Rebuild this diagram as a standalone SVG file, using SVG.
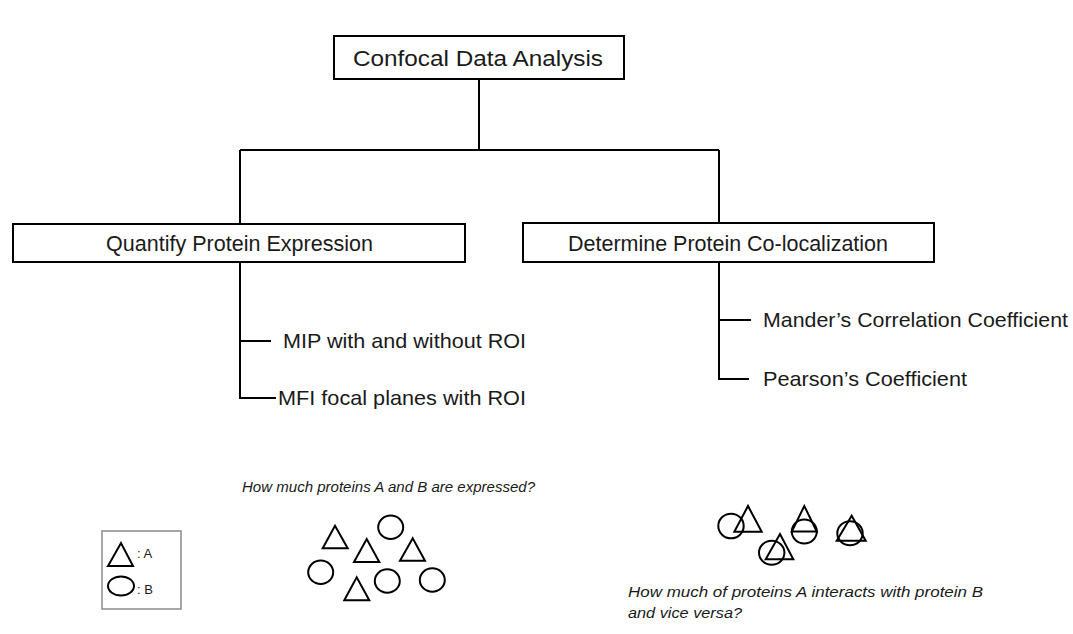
<svg xmlns="http://www.w3.org/2000/svg" width="1073" height="634" viewBox="0 0 1073 634">
  <style>
    .box { fill: #ffffff; stroke: #000000; stroke-width: 2; }
    .wire { fill: none; stroke: #000000; stroke-width: 2; }
    .lbl { font-family: "Liberation Sans", Arial, sans-serif; fill: #1a1a1a; }
    .head { font-size: 22.5px; }
    .item { font-size: 21px; }
    .note { font-size: 15.5px; font-style: italic; }
    .tri, .blob { fill: none; stroke: #000000; stroke-width: 2; }
  </style>

  <!-- connectors -->
  <g id="connectors" class="wire">
    <path d="M479 79 V150 M240 150 H719 M240 150 V224 M719 150 V223"/>
    <path d="M240 262 V398 H276 M240 341 H271"/>
    <path d="M719 262 V379 H749 M719 320 H751"/>
  </g>

  <g id="root">
    <rect class="box" x="334" y="36" width="290" height="43"/>
    <text class="lbl head" x="353" y="66" textLength="250" lengthAdjust="spacingAndGlyphs">Confocal Data Analysis</text>
  </g>

  <g id="quantify">
    <rect class="box" x="13" y="224" width="452" height="38"/>
    <text class="lbl head" x="106" y="251" textLength="267" lengthAdjust="spacingAndGlyphs">Quantify Protein Expression</text>
  </g>

  <g id="colocalization">
    <rect class="box" x="523" y="223" width="411" height="39"/>
    <text class="lbl head" x="568" y="251" textLength="320" lengthAdjust="spacingAndGlyphs">Determine Protein Co-localization</text>
  </g>

  <g id="mip">
    <text class="lbl item" x="283" y="348" textLength="243" lengthAdjust="spacingAndGlyphs">MIP with and without  ROI</text>
  </g>
  <g id="mfi">
    <text class="lbl item" x="278" y="405" textLength="248" lengthAdjust="spacingAndGlyphs">MFI focal planes with ROI</text>
  </g>
  <g id="manders">
    <text class="lbl item" x="763" y="327" textLength="305" lengthAdjust="spacingAndGlyphs">Mander’s Correlation Coefficient</text>
  </g>
  <g id="pearson">
    <text class="lbl item" x="763" y="386" textLength="204" lengthAdjust="spacingAndGlyphs">Pearson’s Coefficient</text>
  </g>

  <!-- legend -->
  <g id="legend">
    <rect x="102" y="531" width="79" height="78" fill="#ffffff" stroke="#8a8a8a" stroke-width="1.5"/>
    <polygon class="tri" points="108,566 133,566 121,543"/>
    <ellipse class="blob" cx="121" cy="586" rx="13" ry="9.5"/>
    <text class="lbl" x="137" y="558" font-size="13">: A</text>
    <text class="lbl" x="137" y="594" font-size="13">: B</text>
  </g>

  <!-- expression sketch -->
  <g id="expression">
    <text class="lbl note" x="242" y="492" textLength="293" lengthAdjust="spacingAndGlyphs">How much proteins A and B are expressed?</text>
    <polygon class="tri" points="322.7,548.3 347.7,548.3 335,525.7"/>
    <polygon class="tri" points="354,562 379.3,562 366.7,539"/>
    <polygon class="tri" points="400,560.7 425,560.7 412.7,538.3"/>
    <polygon class="tri" points="344.3,600.3 369.3,600.3 356.7,577.3"/>
    <ellipse class="blob" cx="390.7" cy="527.3" rx="12.5" ry="11.7"/>
    <ellipse class="blob" cx="320.7" cy="572.3" rx="12.5" ry="11.7"/>
    <ellipse class="blob" cx="387.3" cy="581" rx="12.5" ry="11.7"/>
    <ellipse class="blob" cx="432.3" cy="580" rx="12.5" ry="11.7"/>
  </g>

  <!-- co-localization sketch -->
  <g id="interaction">
    <ellipse class="blob" cx="731" cy="526" rx="12.7" ry="12.3"/>
    <polygon class="tri" points="734.3,531.7 761.7,531.7 748,506"/>
    <ellipse class="blob" cx="771.7" cy="552.7" rx="12.7" ry="12"/>
    <polygon class="tri" points="765.7,559.3 793.3,559.3 780,534"/>
    <ellipse class="blob" cx="804.3" cy="531.5" rx="12.5" ry="12"/>
    <polygon class="tri" points="791.8,531.5 816.8,531.5 804.3,506"/>
    <ellipse class="blob" cx="850" cy="533.3" rx="12.7" ry="12"/>
    <polygon class="tri" points="836.7,540.7 865.7,540.7 851.7,515.7"/>
    <text class="lbl note" x="628" y="597" textLength="355" lengthAdjust="spacingAndGlyphs">How much of proteins A interacts with protein B</text>
    <text class="lbl note" x="628" y="618" textLength="114" lengthAdjust="spacingAndGlyphs">and vice versa?</text>
  </g>
</svg>
